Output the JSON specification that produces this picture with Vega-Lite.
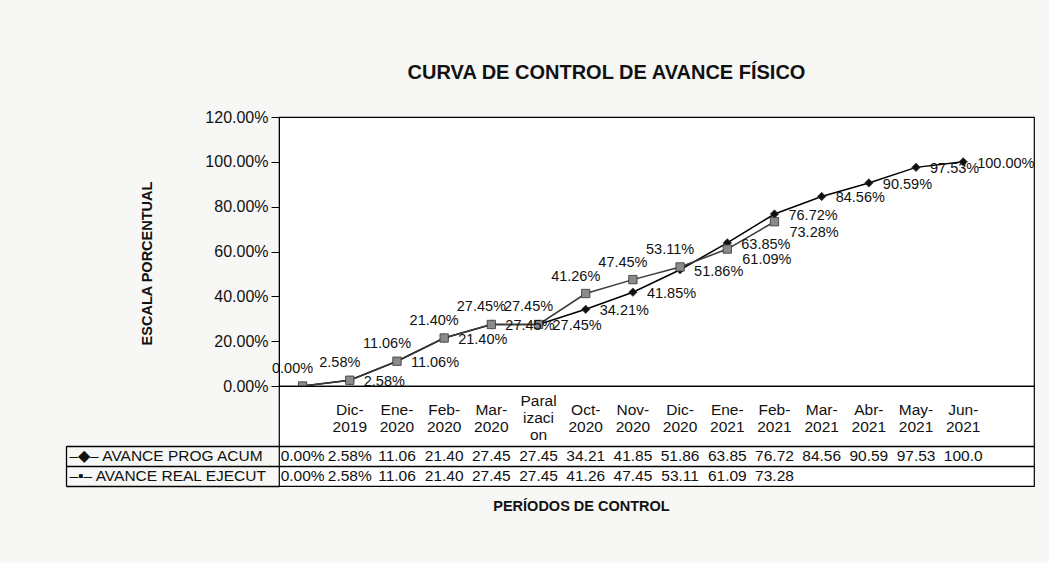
{
  "$schema": "https://vega.github.io/schema/vega-lite/v6.json",
  "background": "#f7f7f5",
  "padding": {"left": 64, "top": 62, "right": 14, "bottom": 54},
  "bounds": "flush",
  "spacing": 0,
  "config": {
    "font": "Liberation Sans",
    "view": {"fill": "white", "stroke": "#000", "strokeWidth": 1.2}
  },
  "datasets": {
    "avance": [
      {"periodo": "Inicio", "etiqueta": "", "serie": "prog", "valor": 0},
      {"periodo": "Dic-2019", "etiqueta": "Dic-|2019", "serie": "prog", "valor": 2.58},
      {"periodo": "Ene-2020", "etiqueta": "Ene-|2020", "serie": "prog", "valor": 11.06},
      {"periodo": "Feb-2020", "etiqueta": "Feb-|2020", "serie": "prog", "valor": 21.40},
      {"periodo": "Mar-2020", "etiqueta": "Mar-|2020", "serie": "prog", "valor": 27.45},
      {"periodo": "Paralizacion", "etiqueta": "Paral|izaci|on", "serie": "prog", "valor": 27.45},
      {"periodo": "Oct-2020", "etiqueta": "Oct-|2020", "serie": "prog", "valor": 34.21},
      {"periodo": "Nov-2020", "etiqueta": "Nov-|2020", "serie": "prog", "valor": 41.85},
      {"periodo": "Dic-2020", "etiqueta": "Dic-|2020", "serie": "prog", "valor": 51.86},
      {"periodo": "Ene-2021", "etiqueta": "Ene-|2021", "serie": "prog", "valor": 63.85},
      {"periodo": "Feb-2021", "etiqueta": "Feb-|2021", "serie": "prog", "valor": 76.72},
      {"periodo": "Mar-2021", "etiqueta": "Mar-|2021", "serie": "prog", "valor": 84.56},
      {"periodo": "Abr-2021", "etiqueta": "Abr-|2021", "serie": "prog", "valor": 90.59},
      {"periodo": "May-2021", "etiqueta": "May-|2021", "serie": "prog", "valor": 97.53},
      {"periodo": "Jun-2021", "etiqueta": "Jun-|2021", "serie": "prog", "valor": 100},
      {"periodo": "Inicio", "serie": "real", "valor": 0},
      {"periodo": "Dic-2019", "serie": "real", "valor": 2.58},
      {"periodo": "Ene-2020", "serie": "real", "valor": 11.06},
      {"periodo": "Feb-2020", "serie": "real", "valor": 21.40},
      {"periodo": "Mar-2020", "serie": "real", "valor": 27.45},
      {"periodo": "Paralizacion", "serie": "real", "valor": 27.45},
      {"periodo": "Oct-2020", "serie": "real", "valor": 41.26},
      {"periodo": "Nov-2020", "serie": "real", "valor": 47.45},
      {"periodo": "Dic-2020", "serie": "real", "valor": 53.11},
      {"periodo": "Ene-2021", "serie": "real", "valor": 61.09},
      {"periodo": "Feb-2021", "serie": "real", "valor": 73.28}
    ]
  },
  "vconcat": [
    {
      "width": 755,
      "height": 269,
      "title": {"text": "CURVA DE CONTROL DE AVANCE FÍSICO", "fontSize": 20, "fontWeight": "bold", "color": "#111", "dx": -50, "offset": 26},
      "data": {"name": "avance"},
      "transform": [{"calculate": "format(datum.valor, '.2f') + '%'", "as": "pct"}],
      "encoding": {
        "x": {
          "field": "periodo", "type": "nominal", "sort": null,
          "scale": {"type": "band", "paddingInner": 0, "paddingOuter": 0,
            "domain": ["Inicio","Dic-2019","Ene-2020","Feb-2020","Mar-2020","Paralizacion","Oct-2020","Nov-2020","Dic-2020","Ene-2021","Feb-2021","Mar-2021","Abr-2021","May-2021","Jun-2021","Fin"]},
          "axis": null
        },
        "y": {
          "field": "valor", "type": "quantitative",
          "scale": {"domain": [0, 120], "nice": false},
          "axis": {
            "values": [0, 20, 40, 60, 80, 100, 120],
            "labelExpr": "format(datum.value, '.2f') + '%'",
            "labelFontSize": 16, "labelColor": "#111", "labelPadding": 3,
            "tickSize": 8, "tickColor": "#000", "grid": false, "domainColor": "#000",
            "title": "ESCALA PORCENTUAL", "titleFontSize": 14.5, "titleFontWeight": "bold", "titleColor": "#111",
            "titlePadding": 50, "titleY": 146
          }
        }
      },
      "layer": [
        {
          "mark": {"type": "line", "strokeWidth": 1.5},
          "encoding": {"color": {"field": "serie", "type": "nominal", "scale": {"domain": ["prog", "real"], "range": ["#000000", "#3a3a3a"]}, "legend": null}}
        },
        {
          "mark": {"type": "point", "filled": true, "opacity": 1, "size": 70, "stroke": "#333", "strokeWidth": 0.8},
          "encoding": {
            "shape": {"field": "serie", "type": "nominal", "scale": {"domain": ["prog", "real"], "range": ["diamond", "square"]}, "legend": null},
            "fill": {"field": "serie", "type": "nominal", "scale": {"domain": ["prog", "real"], "range": ["#111111", "#8a8a8a"]}, "legend": null}
          }
        },
        {
          "transform": [{"filter": "datum.serie == 'prog' && datum.periodo != 'Inicio'"}],
          "mark": {"type": "text", "align": "left", "baseline": "middle", "dx": 14, "dy": 2, "fontSize": 14.5, "color": "#111"},
          "encoding": {"text": {"field": "pct"}}
        },
        {
          "transform": [{"filter": "datum.serie == 'real' && datum.periodo != 'Ene-2021' && datum.periodo != 'Feb-2021'"}],
          "mark": {"type": "text", "align": "center", "baseline": "bottom", "dx": -10, "dy": -10, "fontSize": 14.5, "color": "#111"},
          "encoding": {"text": {"field": "pct"}}
        },
        {
          "transform": [{"filter": "datum.serie == 'real' && (datum.periodo == 'Ene-2021' || datum.periodo == 'Feb-2021')"}],
          "mark": {"type": "text", "align": "left", "baseline": "middle", "dx": 15, "dy": 11, "fontSize": 14.5, "color": "#111"},
          "encoding": {"text": {"field": "pct"}}
        }
      ]
    },
    {
      "width": 755,
      "height": 100,
      "data": {"name": "avance"},
      "transform": [
        {"calculate": "datum.valor < 10 ? format(datum.valor, '.2f') + '%' : (datum.valor >= 100 ? '100.0' : format(datum.valor, '.2f'))", "as": "celda"}
      ],
      "encoding": {
        "x": {
          "field": "periodo", "type": "nominal", "sort": null,
          "scale": {"type": "band", "paddingInner": 0, "paddingOuter": 0,
            "domain": ["Inicio","Dic-2019","Ene-2020","Feb-2020","Mar-2020","Paralizacion","Oct-2020","Nov-2020","Dic-2020","Ene-2021","Feb-2021","Mar-2021","Abr-2021","May-2021","Jun-2021","Fin"]},
          "axis": {"labels": false, "ticks": false, "domain": false, "title": "PERÍODOS DE CONTROL", "titleFontSize": 14.5, "titleFontWeight": "bold", "titleColor": "#111", "titleX": 302, "titlePadding": 13}
        }
      },
      "layer": [
        {
          "mark": {"type": "text", "fontSize": 15.5, "color": "#111", "baseline": "middle"},
          "encoding": {
            "y": {
              "field": "serie", "type": "nominal",
              "scale": {"type": "band", "domain": ["h1", "h2", "h3", "prog", "real"], "paddingInner": 0, "paddingOuter": 0},
              "axis": {
                "title": null,
                "bandPosition": 1,
                "offset": 213,
                "tickSize": -213,
                "tickColor": "#000",
                "tickWidth": 1.3,
                "tickOpacity": {"condition": {"test": "datum.value == 'h3' || datum.value == 'prog' || datum.value == 'real'", "value": 1}, "value": 0},
                "domainColor": "#000",
                "domainWidth": 1.3,
                "domainDash": [40, 60],
                "domainDashOffset": 40,
                "grid": true,
                "gridColor": "#000",
                "gridWidth": 1.3,
                "gridOpacity": {"condition": {"test": "datum.value == 'h3' || datum.value == 'prog'", "value": 1}, "value": 0},
                "labelAlign": "left",
                "labelBaseline": "middle",
                "labelPadding": 210,
                "labelOffset": 0,
                "labelLimit": 400,
                "labelFontSize": 15.5,
                "labelColor": "#111",
                "labelExpr": "datum.value == 'prog' ? '–◆–  AVANCE PROG ACUM' : (datum.value == 'real' ? '–▪–  AVANCE REAL EJECUT' : '')"
              }
            },
            "text": {"field": "celda"}
          }
        },
        {
          "transform": [{"filter": "datum.serie == 'prog' && datum.periodo != 'Paralizacion'"}],
          "mark": {"type": "text", "fontSize": 15.5, "color": "#111", "baseline": "middle", "lineBreak": "|", "lineHeight": 17, "dy": -6},
          "encoding": {
            "y": {"datum": "h2", "type": "nominal"},
            "text": {"field": "etiqueta"}
          }
        },
        {
          "transform": [{"filter": "datum.serie == 'prog' && datum.periodo == 'Paralizacion'"}],
          "mark": {"type": "text", "fontSize": 15.5, "color": "#111", "baseline": "middle", "lineBreak": "|", "lineHeight": 17, "dy": -15},
          "encoding": {
            "y": {"datum": "h2", "type": "nominal"},
            "text": {"field": "etiqueta"}
          }
        }
      ]
    }
  ]
}
